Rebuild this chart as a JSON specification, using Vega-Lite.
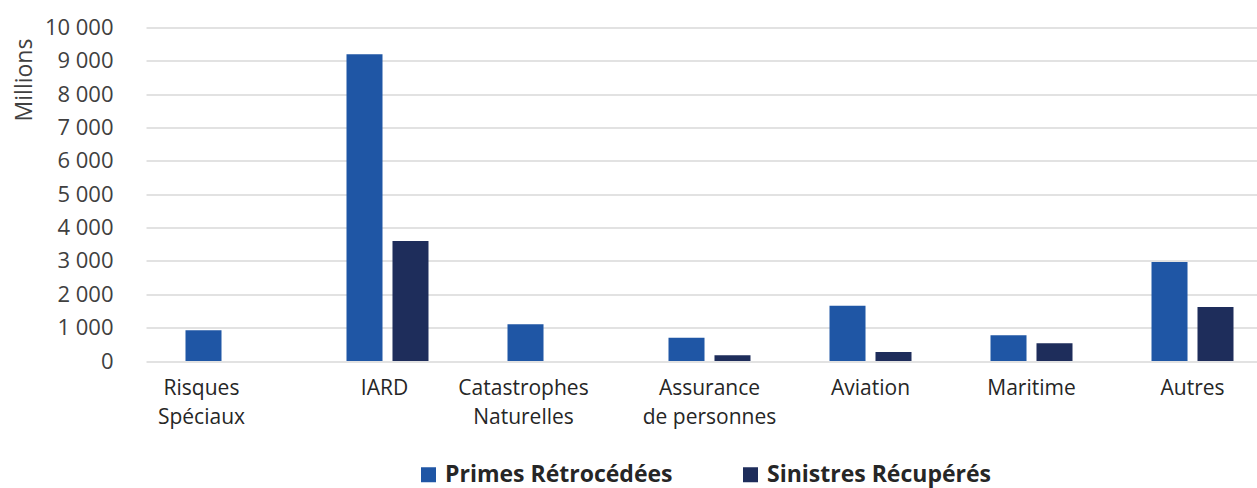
{
  "$schema": "https://vega.github.io/schema/vega-lite/v6.json",
  "width": 1111,
  "height": 333.5,
  "autosize": {"type": "none"},
  "padding": {"left": 146, "top": 27.5, "right": 0, "bottom": 127},
  "background": "white",
  "config": {"view": {"stroke": null}, "font": "Open Sans"},
  "data": {
    "values": [
      {"categorie": "Risques Spéciaux", "serie": "Primes Rétrocédées", "valeur": 920},
      {"categorie": "IARD", "serie": "Primes Rétrocédées", "valeur": 9200},
      {"categorie": "IARD", "serie": "Sinistres Récupérés", "valeur": 3600},
      {"categorie": "Catastrophes Naturelles", "serie": "Primes Rétrocédées", "valeur": 1100},
      {"categorie": "Assurance de personnes", "serie": "Primes Rétrocédées", "valeur": 700},
      {"categorie": "Assurance de personnes", "serie": "Sinistres Récupérés", "valeur": 170},
      {"categorie": "Aviation", "serie": "Primes Rétrocédées", "valeur": 1660},
      {"categorie": "Aviation", "serie": "Sinistres Récupérés", "valeur": 270},
      {"categorie": "Maritime", "serie": "Primes Rétrocédées", "valeur": 770},
      {"categorie": "Maritime", "serie": "Sinistres Récupérés", "valeur": 530},
      {"categorie": "Autres", "serie": "Primes Rétrocédées", "valeur": 2970},
      {"categorie": "Autres", "serie": "Sinistres Récupérés", "valeur": 1620}
    ]
  },
  "mark": {"type": "bar"},
  "encoding": {
    "x": {
      "field": "categorie",
      "type": "nominal",
      "sort": null,
      "scale": {"range": [0, 1127], "paddingInner": 0.4907, "paddingOuter": 0.2453},
      "axis": {
        "title": null,
        "domain": false,
        "ticks": false,
        "tickSize": 0,
        "labelAngle": 0,
        "labelFont": "Open Sans",
        "labelFontSize": 21,
        "labelColor": "#262626",
        "labelPadding": 16,
        "labelLineHeight": 29,
        "labelBaseline": "top",
        "labelLimit": 300,
        "labelOffset": {
          "condition": [
            {"test": "datum.value == 'Risques Spéciaux' || datum.value == 'Catastrophes Naturelles'", "value": -25},
            {"test": "datum.value == 'IARD'", "value": -3}
          ],
          "value": 0
        },
        "labelExpr": "datum.value == 'Risques Spéciaux' ? ['Risques', 'Spéciaux'] : datum.value == 'Catastrophes Naturelles' ? ['Catastrophes', 'Naturelles'] : datum.value == 'Assurance de personnes' ? ['Assurance', 'de personnes'] : datum.value"
      }
    },
    "xOffset": {
      "field": "serie",
      "type": "nominal",
      "sort": ["Primes Rétrocédées", "Sinistres Récupérés"],
      "scale": {"paddingInner": 0.217, "paddingOuter": 0}
    },
    "y": {
      "field": "valeur",
      "type": "quantitative",
      "scale": {"domain": [0, 10000]},
      "axis": {
        "values": [0, 1000, 2000, 3000, 4000, 5000, 6000, 7000, 8000, 9000, 10000],
        "grid": true,
        "gridColor": "#d9d9d9",
        "gridWidth": 1.5,
        "domain": false,
        "ticks": false,
        "tickSize": 0,
        "labelFont": "Open Sans",
        "labelFontSize": 22,
        "labelColor": "#404040",
        "labelPadding": 33,
        "labelExpr": "replace(format(datum.value, ','), ',', ' ')",
        "title": "Millions",
        "titleFont": "Open Sans",
        "titleFontSize": 23,
        "titleFontWeight": "normal",
        "titleColor": "#404040",
        "titleAngle": 270,
        "titleAlign": "center",
        "titleBaseline": "middle",
        "titleX": -122,
        "titleY": 52
      }
    },
    "color": {
      "field": "serie",
      "type": "nominal",
      "sort": ["Primes Rétrocédées", "Sinistres Récupérés"],
      "scale": {"domain": ["Primes Rétrocédées", "Sinistres Récupérés"], "range": ["#1F56A5", "#1E2D5B"]},
      "legend": {
        "title": null,
        "orient": "none",
        "legendX": 271,
        "legendY": 435.5,
        "direction": "horizontal",
        "symbolType": "square",
        "symbolSize": 225,
        "symbolStrokeWidth": 0,
        "labelFont": "Open Sans",
        "labelFontSize": 23,
        "labelFontWeight": "bold",
        "labelColor": "#262626",
        "labelOffset": 5,
        "columnPadding": 66,
        "labelLimit": 400,
        "padding": 0
      }
    }
  }
}
